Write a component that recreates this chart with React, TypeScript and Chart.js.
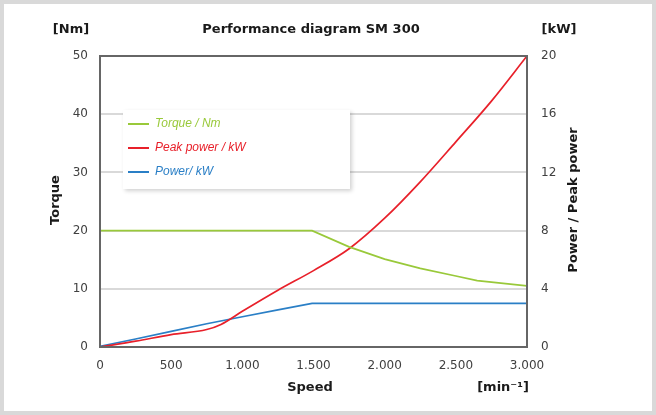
import {useEffect, useRef} from "react";
import {Chart, registerables} from "chart.js";

Chart.register(...registerables);

// speeds in min^-1
const torqueSpeed = [0, 1490, 1750, 2000, 2250, 2500, 2650, 3000];
const torque = [20, 20, 17.2, 15.1, 13.5, 12.2, 11.4, 10.5];

const peakSpeed = [0, 250, 500, 750, 850, 1000, 1250, 1500, 1750, 2000, 2250, 2500, 2750, 3000];
const peakPower = [0, 0.4, 0.85, 1.2, 1.55, 2.45, 3.9, 5.25, 6.75, 8.85, 11.35, 14.1, 16.9, 20];

const powerSpeed = [0, 250, 500, 750, 1000, 1250, 1490, 2000, 2500, 3000];
const power = [0.05, 0.55, 1.07, 1.6, 2.08, 2.55, 3.0, 3.0, 3.0, 3.0];

const seriesNames = ["Torque / Nm", "Peak power / kW", "Power/ kW"];
const seriesColors = ["#99c93a", "#e8202a", "#2a7fc6"];

const FONT = "'DejaVu Sans', Verdana, sans-serif";

const toPoints = (xs: number[], ys: number[]) => xs.map((x, i) => ({x, y: ys[i]}));
const fmt = (v: number) => String(v).replace(/\B(?=(\d{3})+(?!\d))/g, ".");

const decorations = {
    id: "decorations",
    beforeDatasetsDraw(chart: any) {
        const ctx = chart.ctx;
        // legend box
        ctx.save();
        ctx.shadowColor = "rgba(0,0,0,0.18)";
        ctx.shadowBlur = 4;
        ctx.shadowOffsetX = 2;
        ctx.shadowOffsetY = 2;
        ctx.fillStyle = "#fff";
        ctx.fillRect(119, 106, 227, 79);
        ctx.restore();
        ctx.save();
        ctx.font = "italic 12px 'Liberation Sans', Arial, sans-serif";
        ctx.textBaseline = "middle";
        ctx.lineWidth = 2;
        [120, 144, 168].forEach((y, i) => {
            ctx.strokeStyle = seriesColors[i];
            ctx.beginPath();
            ctx.moveTo(124, y);
            ctx.lineTo(145, y);
            ctx.stroke();
            ctx.fillStyle = seriesColors[i];
            ctx.fillText(seriesNames[i], 151, y);
        });
        ctx.restore();
    },
    afterDraw(chart: any) {
        const ctx = chart.ctx;
        const a = chart.chartArea;
        ctx.save();
        ctx.strokeStyle = "#666";
        ctx.lineWidth = 2;
        ctx.strokeRect(a.left, a.top, a.right - a.left, a.bottom - a.top);

        ctx.fillStyle = "#1a1a1a";
        ctx.textAlign = "center";
        ctx.textBaseline = "middle";
        ctx.font = `bold 13px ${FONT}`;
        ctx.fillText("Performance diagram SM 300", 307, 26);
        ctx.fillText("[Nm]", 67, 26);
        ctx.fillText("[kW]", 555, 26);
        ctx.fillText("Speed", 306, 384);
        ctx.fillText("[min⁻¹]", 499, 384);

        ctx.save();
        ctx.translate(52, 196);
        ctx.rotate(-Math.PI / 2);
        ctx.fillText("Torque", 0, 0);
        ctx.restore();

        ctx.save();
        ctx.translate(570, 196);
        ctx.rotate(-Math.PI / 2);
        ctx.fillText("Power / Peak power", 0, 0);
        ctx.restore();
        ctx.restore();
    },
};

const PerformanceChart = () => {
    const canvasRef = useRef<HTMLCanvasElement>(null);

    useEffect(() => {
        if (!canvasRef.current) return;
        const ctx = canvasRef.current.getContext("2d");
        if (!ctx) return;

        const tickFont = {family: FONT, size: 12};

        const myChart = new Chart(ctx, {
            type: "line",
            data: {
                datasets: [
                    {
                        label: seriesNames[0],
                        data: toPoints(torqueSpeed, torque),
                        borderColor: seriesColors[0],
                        yAxisID: "y",
                    },
                    {
                        label: seriesNames[1],
                        data: toPoints(peakSpeed, peakPower),
                        borderColor: seriesColors[1],
                        cubicInterpolationMode: "monotone",
                        yAxisID: "y1",
                    },
                    {
                        label: seriesNames[2],
                        data: toPoints(powerSpeed, power),
                        borderColor: seriesColors[2],
                        yAxisID: "y1",
                    },
                ],
            },
            options: {
                responsive: false,
                animation: false,
                parsing: false,
                layout: {padding: {top: 52, left: 0, right: 0, bottom: 0}},
                elements: {
                    point: {radius: 0},
                    line: {borderWidth: 1.7, fill: false},
                },
                plugins: {
                    legend: {display: false},
                    title: {display: false},
                    tooltip: {enabled: false},
                },
                scales: {
                    x: {
                        type: "linear",
                        min: 0,
                        max: 3000,
                        ticks: {stepSize: 500, padding: 12, color: "#404040", font: tickFont, callback: (v: any) => fmt(Number(v))},
                        grid: {display: false, drawTicks: false},
                        border: {display: false},
                        afterFit: (s: any) => { s.height = 64; },
                    },
                    y: {
                        position: "left",
                        min: 0,
                        max: 50,
                        ticks: {stepSize: 10, padding: 12, color: "#404040", font: tickFont},
                        grid: {color: "#d9d9d9", lineWidth: 2, drawTicks: false},
                        border: {display: false},
                        afterFit: (s: any) => { s.width = 96; },
                    },
                    y1: {
                        position: "right",
                        min: 0,
                        max: 20,
                        ticks: {stepSize: 4, padding: 14, color: "#404040", font: tickFont},
                        grid: {display: false, drawTicks: false},
                        border: {display: false},
                        afterFit: (s: any) => { s.width = 125; },
                    },
                },
            },
            plugins: [decorations],
        });
        return () => {
            myChart.destroy();
        };
    }, []);

    return (
        <div style={{position: "absolute", left: 0, top: 0, width: 656, height: 415, boxSizing: "border-box", border: "4px solid #d9d9d9", background: "#fff"}}>
            <canvas ref={canvasRef} width={648} height={407} style={{display: "block"}}></canvas>
        </div>
    );
};

export default PerformanceChart;
